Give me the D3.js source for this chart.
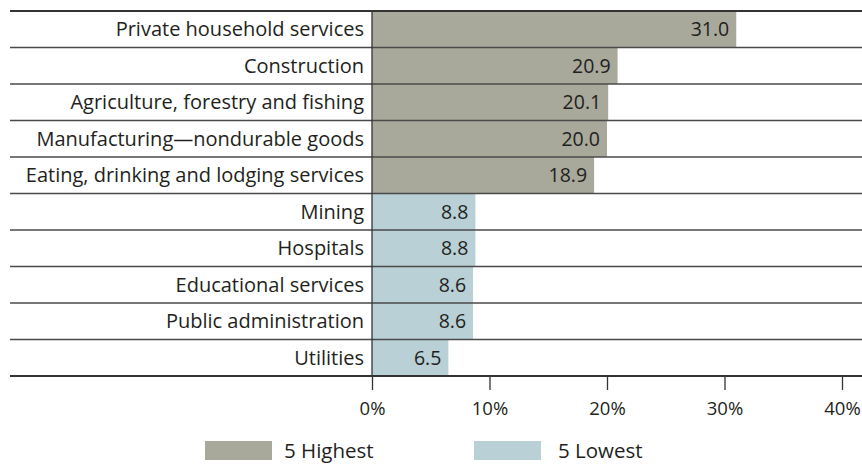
<!DOCTYPE html>
<html>
<head>
<meta charset="utf-8">
<script src="https://cdn.jsdelivr.net/npm/d3@7"></script>
<style>
  body { margin: 0; background: #fff; }
  text { font-family: "Open Sans", sans-serif; fill: #231f20; }
</style>
</head>
<body>
<script>
// data
var categories = ["Private household services", "Construction", "Agriculture, forestry and fishing",
  "Manufacturing\u2014nondurable goods", "Eating, drinking and lodging services",
  "Mining", "Hospitals", "Educational services", "Public administration", "Utilities"];
var values = [31.0, 20.9, 20.1, 20.0, 18.9, 8.8, 8.8, 8.6, 8.6, 6.5];
var groups = ["high", "high", "high", "high", "high", "low", "low", "low", "low", "low"];
var tickValues = [0, 10, 20, 30, 40];
var legendLabels = ["5 Highest", "5 Lowest"];

var colors = { high: "#a8a89b", low: "#b8d0d6" };

var width = 862, height = 475;
var svg = d3.select("body").append("svg")
    .attr("width", width)
    .attr("height", height);

var x = d3.scaleLinear().domain([0, 40]).range([372, 842]);
var y = d3.scaleBand().domain(categories).range([11, 376]).padding(0);

// bars
svg.selectAll(".bar")
    .data(categories)
    .enter().append("rect")
    .attr("class", "bar")
    .attr("x", x(0))
    .attr("y", function(d) { return y(d); })
    .attr("width", function(d, i) { return x(values[i]) - x(0); })
    .attr("height", y.bandwidth())
    .attr("fill", function(d, i) { return colors[groups[i]]; });

// row rules
svg.selectAll(".rule")
    .data(categories.slice(1))
    .enter().append("line")
    .attr("x1", 10).attr("x2", width)
    .attr("y1", function(d) { return y(d); })
    .attr("y2", function(d) { return y(d); })
    .attr("stroke", "#4a4a4a")
    .attr("stroke-width", 1.3);

// top rule
svg.append("line")
    .attr("x1", 10).attr("x2", width)
    .attr("y1", 11).attr("y2", 11)
    .attr("stroke", "#333").attr("stroke-width", 2);

// vertical axis line
svg.append("line")
    .attr("x1", x(0)).attr("x2", x(0))
    .attr("y1", 11).attr("y2", 376)
    .attr("stroke", "#333").attr("stroke-width", 1.3);

// category labels
svg.selectAll(".cat")
    .data(categories)
    .enter().append("text")
    .attr("x", 364)
    .attr("y", function(d) { return y(d) + y.bandwidth() / 2; })
    .attr("dy", "0.36em")
    .attr("text-anchor", "end")
    .style("font-size", "20px")
    .text(function(d) { return d; });

// value labels
svg.selectAll(".val")
    .data(categories)
    .enter().append("text")
    .attr("x", function(d, i) { return x(values[i]) - 7; })
    .attr("y", function(d) { return y(d) + y.bandwidth() / 2; })
    .attr("dy", "0.36em")
    .attr("text-anchor", "end")
    .style("font-size", "19.5px")
    .text(function(d, i) { return values[i].toFixed(1); });

// x axis
var xAxis = svg.append("g")
    .attr("transform", "translate(0,376)")
    .call(d3.axisBottom(x).tickValues(tickValues)
      .tickSize(14).tickPadding(12)
      .tickFormat(function(d) { return d + "%"; }));
xAxis.select(".domain").remove();
xAxis.selectAll(".tick line").attr("stroke", "#333").attr("stroke-width", 1.3);
xAxis.selectAll(".tick text").style("font-size", "18.5px").attr("fill", "#231f20")
    .style("font-family", "'Open Sans', sans-serif");

// bottom rule
svg.append("line")
    .attr("x1", 10).attr("x2", width)
    .attr("y1", 376).attr("y2", 376)
    .attr("stroke", "#333").attr("stroke-width", 2.2);

// legend
var legendX = [205, 474];
var legend = svg.selectAll(".legend")
    .data(legendLabels)
    .enter().append("g")
    .attr("transform", function(d, i) { return "translate(" + legendX[i] + ",441)"; });
legend.append("rect")
    .attr("width", 67).attr("height", 19)
    .attr("fill", function(d, i) { return i == 0 ? colors.high : colors.low; });
legend.append("text")
    .attr("x", function(d, i) { return i == 0 ? 79 : 84; })
    .attr("y", 10)
    .attr("dy", "0.36em")
    .style("font-size", "20.5px")
    .text(function(d) { return d; });
</script>
</body>
</html>
